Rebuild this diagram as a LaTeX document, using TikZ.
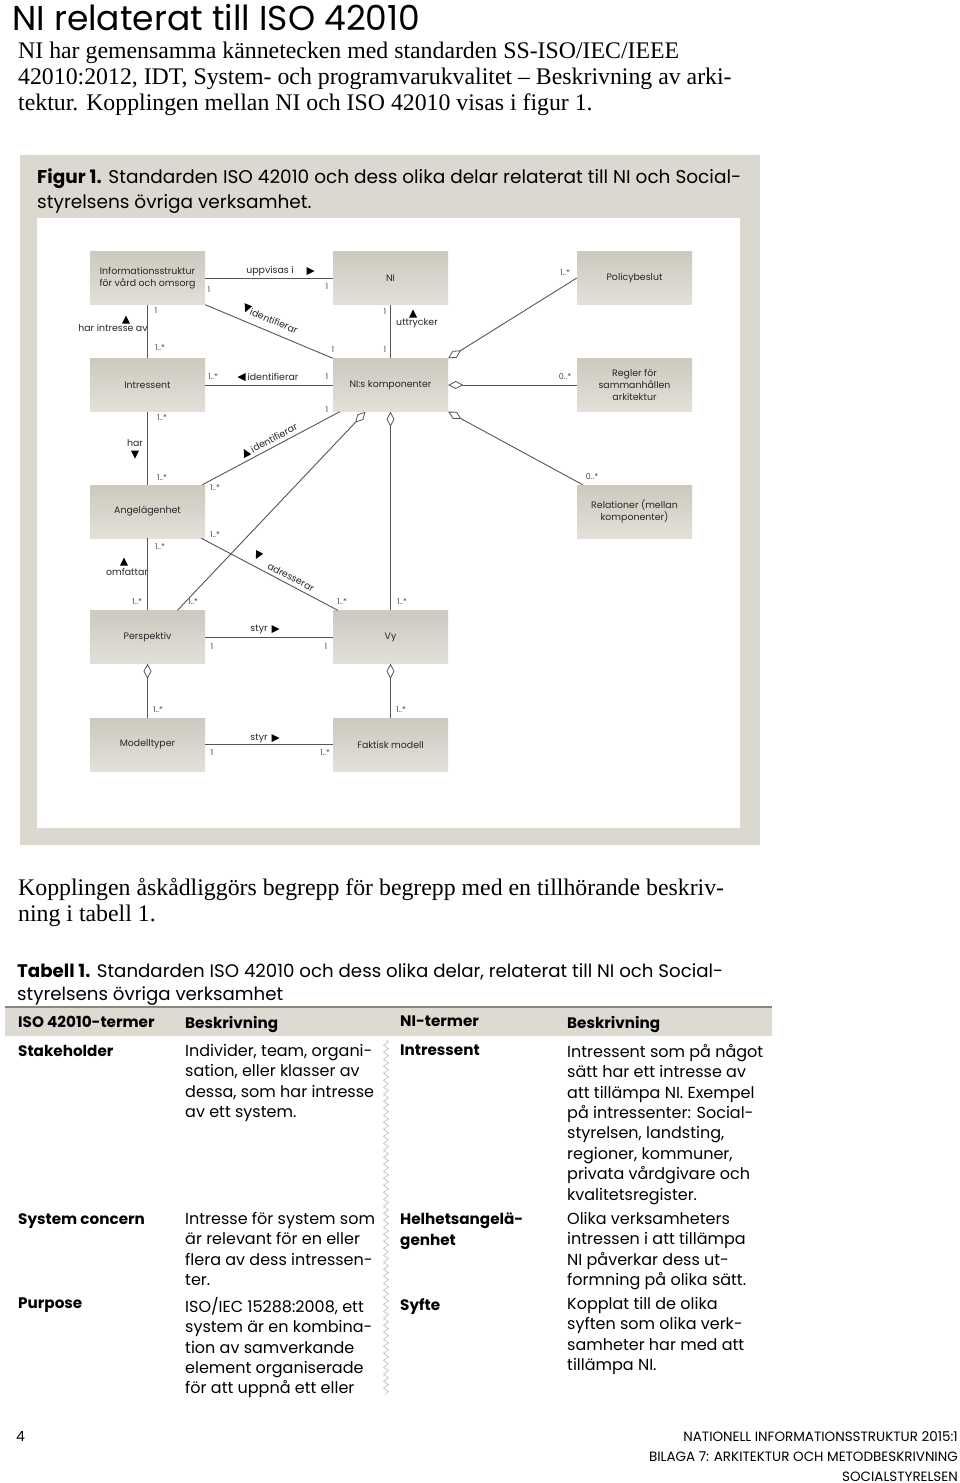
\documentclass[tikz,border=0pt]{standalone}
\usepackage{fontspec}
\setmainfont{Liberation Serif}
\newfontfamily\gothic{Poppins}
\usetikzlibrary{arrows.meta,decorations.pathmorphing}
\definecolor{figbg}{RGB}{218,216,207}
\definecolor{boxtop}{RGB}{204,202,190}
\definecolor{boxbot}{RGB}{226,224,216}
\definecolor{linec}{RGB}{85,85,85}
\definecolor{multc}{RGB}{70,70,70}
\definecolor{hdrband}{RGB}{220,218,209}
\definecolor{hdrrule}{RGB}{140,135,120}
\definecolor{zig}{RGB}{190,190,190}
\newcommand{\mytri}[3]{\fill[black,shift={(#1,#2)},rotate=#3] (-3.5,-4) -- (4.5,0) -- (-3.5,4) -- cycle;}
\tikzset{
  umlbox/.style={draw=none, minimum width=115pt, minimum height=53pt, inner sep=1pt,
    top color=boxtop, bottom color=boxbot, align=center, text=black!85,
    font=\gothic\fontsize{9.4}{12}\selectfont},
  conn/.style={draw=linec, line width=0.9pt},
  agg/.style={{Diamond[fill=white,length=15pt,width=8pt,line width=0.8pt]}-},
  mult/.style={font=\gothic\fontsize{8}{9}\selectfont, text=multc, inner sep=0pt},
  lab/.style={font=\gothic\fontsize{9.4}{10}\selectfont, text=black!85, inner sep=0pt},
  body/.style={font=\fontsize{23.8}{26}\selectfont, align=left, inner sep=0pt, anchor=north west},
  gtext/.style={font=\gothic\fontsize{16}{20.4}\selectfont, align=left, inner sep=0pt, anchor=north west},
  gbold/.style={font=\gothic\bfseries\fontsize{15.2}{20.4}\selectfont, align=left, inner sep=0pt, anchor=north west},
  foot/.style={font=\gothic\fontsize{13.5}{20}\selectfont, inner sep=0pt, anchor=base east}
}
\begin{document}
\begin{tikzpicture}[x=1pt,y=-1pt]
\useasboundingbox (0,0) rectangle (960,1483);
\fill[white] (0,0) rectangle (960,1483);
% title and intro
\node[font=\gothic\fontsize{34.5}{36}\selectfont, inner sep=0pt, anchor=base west] (title) at (12,30) {NI relaterat till ISO 42010};
\node[body] (intro) at (18,42) {NI har gemensamma kännetecken med standarden SS-ISO/IEC/IEEE\\42010:2012, IDT, System- och programvarukvalitet -- Beskrivning av arki-\\tektur. Kopplingen mellan NI och ISO 42010 visas i figur 1.};
% figure frame
\fill[figbg] (20,155) rectangle (760,845);
\fill[white] (37,218) rectangle (740,828);
\node[font=\gothic\fontsize{18.5}{25}\selectfont, align=left, inner sep=0pt, anchor=north west] (cap) at (37,168) {\textbf{Figur 1.} Standarden ISO 42010 och dess olika delar relaterat till NI och Social-\\styrelsens övriga verksamhet.};
% boxes
\node[umlbox] (info) at (147.5,278) {Informationsstruktur\\för vård och omsorg};
\node[umlbox] (ni) at (390.5,278) {NI};
\node[umlbox] (pol) at (634.5,278) {Policybeslut};
\node[umlbox] (intr) at (147.5,385) {Intressent};
\node[umlbox] (komp) at (390.5,385) {NI:s komponenter};
\node[umlbox] (regl) at (634.5,385) {Regler för\\sammanhållen\\arkitektur};
\node[umlbox] (angel) at (147.5,511.5) {Angelägenhet};
\node[umlbox] (rel) at (634.5,511.5) {Relationer (mellan\\komponenter)};
\node[umlbox] (persp) at (147.5,637) {Perspektiv};
\node[umlbox] (vy) at (390.5,637) {Vy};
\node[umlbox] (modell) at (147.5,744.5) {Modelltyper};
\node[umlbox] (fakt) at (390.5,744.5) {Faktisk modell};
% connectors
\draw[conn] (info.east) -- (ni.west);
\draw[conn] (info.south east) -- (komp.north west);
\draw[conn] (info.south) -- (intr.north);
\draw[conn] (ni.south) -- (komp.north);
\draw[conn] (intr.east) -- (komp.west);
\draw[conn,agg] (komp.north east) -- (pol.west);
\draw[conn,agg] (komp.east) -- (regl.west);
\draw[conn,agg] (komp.south east) -- ([xshift=6pt]rel.north west);
\draw[conn] (intr.south) -- (angel.north);
\draw[conn] ([xshift=-3pt]angel.north east) -- ([xshift=7pt]komp.south west);
\draw[conn,agg] ([xshift=-25pt]komp.south) -- ([xshift=30pt]persp.north);
\draw[conn,agg] (komp.south) -- (vy.north);
\draw[conn] ([xshift=-4pt]angel.south east) -- ([xshift=5pt]vy.north west);
\draw[conn] (angel.south) -- (persp.north);
\draw[conn] (persp.east) -- (vy.west);
\draw[conn,agg] (persp.south) -- (modell.north);
\draw[conn,agg] (vy.south) -- (fakt.north);
\draw[conn] (modell.east) -- (fakt.west);
% association labels
\node[lab] (l1) at (270,271) {uppvisas i}; \mytri{310}{271}{0}
\node[lab,rotate=-22.9] (l2) at (274,321) {identifierar}; \mytri{247}{308}{-112.9}
\node[lab] (l3) at (113,328) {har intresse av}; \mytri{126}{320}{90}
\node[lab] (l4) at (417,323) {uttrycker}; \mytri{413}{314}{90}
\node[lab] (l5) at (273,377) {identifierar}; \mytri{242}{377}{180}
\node[lab] (l6) at (135,443) {har}; \mytri{135}{454}{-90}
\node[lab,rotate=27.9] (l7) at (274,438) {identifierar}; \mytri{246}{453}{117.9}
\node[lab,rotate=-27.7] (l8) at (291,577) {adresserar}; \mytri{258}{555}{-117.7}
\node[lab] (l9) at (127,572) {omfattar}; \mytri{124}{562}{90}
\node[lab] (l10) at (259,629) {styr}; \mytri{275}{629}{0}
\node[lab] (l11) at (259,738) {styr}; \mytri{275}{738}{0}
% multiplicities
\node[mult] (m1) at (209,290) {1};
\node[mult] (m2) at (327,287) {1};
\node[mult] (m3) at (333,350) {1};
\node[mult] (m4) at (156,311) {1};
\node[mult] (m5) at (160,348) {1..*};
\node[mult] (m6) at (385,312) {1};
\node[mult] (m7) at (385,350) {1};
\node[mult] (m8) at (213,377) {1..*};
\node[mult] (m9) at (327,377) {1};
\node[mult] (m10) at (565,273) {1..*};
\node[mult] (m11) at (565,377) {0..*};
\node[mult] (m12) at (592,477) {0..*};
\node[mult] (m13) at (162,418) {1..*};
\node[mult] (m14) at (162,478) {1..*};
\node[mult] (m15) at (327,410) {1};
\node[mult] (m16) at (215,488) {1..*};
\node[mult] (m17) at (215,535) {1..*};
\node[mult] (m18) at (160,547) {1..*};
\node[mult] (m19) at (137,602) {1..*};
\node[mult] (m20) at (193,602) {1..*};
\node[mult] (m21) at (342,602) {1..*};
\node[mult] (m22) at (402,602) {1..*};
\node[mult] (m23) at (212,647) {1};
\node[mult] (m24) at (326,647) {1};
\node[mult] (m25) at (158,710) {1..*};
\node[mult] (m26) at (401,710) {1..*};
\node[mult] (m27) at (212,753) {1};
\node[mult] (m28) at (325,753) {1..*};
% text below figure
\node[body] (after) at (18,878) {Kopplingen åskådliggörs begrepp för begrepp med en tillhörande beskriv-\\ning i tabell 1.};
\node[font=\gothic\fontsize{18.2}{23}\selectfont, align=left, inner sep=0pt, anchor=north west] (tcap) at (17,963) {\textbf{Tabell 1.} Standarden ISO 42010 och dess olika delar, relaterat till NI och Social-\\styrelsens övriga verksamhet};
% table
\fill[hdrband] (5,1007) rectangle (772,1036);
\draw[hdrrule, line width=2pt] (5,1007) -- (772,1007);
\node[gbold] (h1) at (18,1016) {ISO 42010-termer};
\node[gbold] (h2) at (185,1016) {Beskrivning};
\node[gbold] (h3) at (400,1016) {NI-termer};
\node[gbold] (h4) at (567,1016) {Beskrivning};
\draw[zig, line width=0.6pt, decorate, decoration={zigzag, segment length=7pt, amplitude=2.5pt}] (386,1040) -- (386,1395);
\node[gbold] (r1a) at (18,1045) {Stakeholder};
\node[gtext] (r1b) at (185,1044) {Individer, team, organi-\\sation, eller klasser av\\dessa, som har intresse\\av ett system.};
\node[gbold] (r1c) at (400,1045) {Intressent};
\node[gtext] (r1d) at (567,1044) {Intressent som på något\\sätt har ett intresse av\\att tillämpa NI. Exempel\\på intressenter: Social-\\styrelsen, landsting,\\regioner, kommuner,\\privata vårdgivare och\\kvalitetsregister.};
\node[gbold] (r2a) at (18,1213) {System concern};
\node[gtext] (r2b) at (185,1212) {Intresse för system som\\är relevant för en eller\\flera av dess intressen-\\ter.};
\node[gbold] (r2c) at (400,1213) {Helhetsangelä-\\genhet};
\node[gtext] (r2d) at (567,1212) {Olika verksamheters\\intressen i att tillämpa\\NI påverkar dess ut-\\formning på olika sätt.};
\node[gbold] (r3a) at (18,1298) {Purpose};
\node[gtext] (r3b) at (185,1297) {ISO/IEC 15288:2008, ett\\system är en kombina-\\tion av samverkande\\element organiserade\\för att uppnå ett eller};
\node[gbold] (r3c) at (400,1298) {Syfte};
\node[gtext] (r3d) at (567,1297) {Kopplat till de olika\\syften som olika verk-\\samheter har med att\\tillämpa NI.};
% footer
\node[font=\gothic\fontsize{14}{16}\selectfont, inner sep=0pt, anchor=base west] (pg) at (16,1441) {4};
\node[foot] (f1) at (958,1441) {NATIONELL INFORMATIONSSTRUKTUR 2015:1};
\node[foot] (f2) at (958,1461) {BILAGA 7: ARKITEKTUR OCH METODBESKRIVNING};
\node[foot] (f3) at (958,1481) {SOCIALSTYRELSEN};
\end{tikzpicture}
\end{document}
